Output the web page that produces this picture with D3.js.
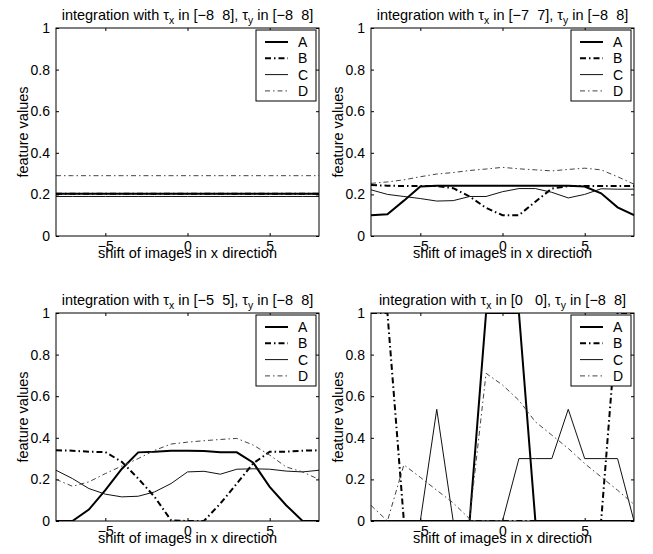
<!DOCTYPE html>
<html>
<head>
<meta charset="utf-8">
<script src="https://cdn.jsdelivr.net/npm/d3@7"></script>
<style>
	body { margin: 0; background: #fff; }
	svg { display: block; font-family: 'Liberation Sans', Arial, Helvetica, sans-serif; }
	text { white-space: pre; }
</style>
</head>
<body>
<div id="chart"></div>
<script>
// x positions (shift of images) shared by every panel
var shifts = [-8, -7, -6, -5, -4, -3, -2, -1, 0, 1, 2, 3, 4, 5, 6, 7, 8];
var seriesNames = ['A', 'B', 'C', 'D'];
var xTicks = [-5, 0, 5];
var yTicks = [0, 0.2, 0.4, 0.6, 0.8, 1];
var tauXRanges = ['[\u22128  8]', '[\u22127  7]', '[\u22125  5]', '[0   0]'];
var tauYRange = '[\u22128  8]';

// tau_x in [-8 8]
var tx8A = [0.203, 0.203, 0.203, 0.203, 0.203, 0.203, 0.203, 0.203, 0.203, 0.203, 0.203, 0.203, 0.203, 0.203, 0.203, 0.203, 0.203];
var tx8B = [0.203, 0.203, 0.203, 0.203, 0.203, 0.203, 0.203, 0.203, 0.203, 0.203, 0.203, 0.203, 0.203, 0.203, 0.203, 0.203, 0.203];
var tx8C = [0.19, 0.19, 0.19, 0.19, 0.19, 0.19, 0.19, 0.19, 0.19, 0.19, 0.19, 0.19, 0.19, 0.19, 0.19, 0.19, 0.19];
var tx8D = [0.29, 0.29, 0.29, 0.29, 0.29, 0.29, 0.29, 0.29, 0.29, 0.29, 0.29, 0.29, 0.29, 0.29, 0.29, 0.29, 0.29];

// tau_x in [-7 7]
var tx7A = [0.10, 0.105, 0.17, 0.238, 0.242, 0.242, 0.242, 0.242, 0.242, 0.242, 0.242, 0.242, 0.242, 0.238, 0.205, 0.138, 0.10];
var tx7B = [0.245, 0.242, 0.24, 0.24, 0.24, 0.23, 0.19, 0.135, 0.10, 0.10, 0.165, 0.228, 0.24, 0.24, 0.24, 0.24, 0.24];
var tx7C = [0.222, 0.20, 0.19, 0.18, 0.168, 0.17, 0.19, 0.19, 0.213, 0.228, 0.228, 0.21, 0.183, 0.20, 0.227, 0.225, 0.225];
var tx7D = [0.253, 0.26, 0.27, 0.285, 0.298, 0.305, 0.315, 0.322, 0.33, 0.323, 0.318, 0.313, 0.32, 0.326, 0.318, 0.285, 0.249];

// tau_x in [-5 5]
var tx5A = [0, 0, 0.055, 0.148, 0.25, 0.33, 0.333, 0.338, 0.338, 0.336, 0.33, 0.33, 0.28, 0.164, 0.076, 0, 0];
var tx5B = [0.34, 0.338, 0.333, 0.331, 0.285, 0.204, 0.116, 0.003, 0, 0, 0.084, 0.18, 0.277, 0.333, 0.333, 0.338, 0.34];
var tx5C = [0.244, 0.204, 0.156, 0.129, 0.116, 0.119, 0.14, 0.18, 0.236, 0.239, 0.225, 0.249, 0.251, 0.249, 0.24, 0.236, 0.244];
var tx5D = [0.2, 0.167, 0.188, 0.228, 0.264, 0.3, 0.34, 0.37, 0.379, 0.386, 0.392, 0.397, 0.365, 0.317, 0.26, 0.236, 0.2];

// tau_x in [0 0]
var tx0A = [0, 0, 0, 0, 0, 0, 0, 1, 1, 1, 0, 0, 0, 0, 0, 0, 0];
var tx0B = [1, 1, 0, 0, 0, 0, 0, 0, 0, 0, 0, 0, 0, 0, 0, 1, 1];
var tx0C = [0, 0, 0, 0, 0.537, 0, 0, 0, 0, 0.30, 0.30, 0.30, 0.537, 0.30, 0.30, 0.30, 0];
var tx0D = [0.075, 0, 0.27, 0.21, 0.148, 0.087, 0.01, 0.71, 0.654, 0.58, 0.477, 0.413, 0.349, 0.276, 0.212, 0.148, 0.08];

var panels = [
	{tauX: tauXRanges[0], series: [tx8A, tx8B, tx8C, tx8D]},
	{tauX: tauXRanges[1], series: [tx7A, tx7B, tx7C, tx7D]},
	{tauX: tauXRanges[2], series: [tx5A, tx5B, tx5C, tx5D]},
	{tauX: tauXRanges[3], series: [tx0A, tx0B, tx0C, tx0D]}
];

// MATLAB-ish line styles: A thick solid, B thick dash-dot, C thin solid, D thin dash-dot
var styles = [
	{stroke: '#000', width: 2, dash: null},
	{stroke: '#000', width: 2, dash: '6,3,1.5,3'},
	{stroke: '#111', width: 1, dash: null},
	{stroke: '#444', width: 1, dash: '5,3,1.5,3'}
];

var width = 653, height = 554;
var lefts = [56, 371], tops = [28, 313];
var plotW = 263, plotH = 208;
var tickFont = 14, labelFont = 14.5, titleFont = 14.5;

var svg = d3.select('#chart')
	.append('svg')
	.attr('width', width)
	.attr('height', height);

function fmtY(d) {
	return (d === 0 || d === 1) ? String(d) : d.toFixed(1);
}

function renderTitle(g, tauX) {
	var t = g.append('text')
		.attr('x', plotW / 2)
		.attr('y', -8)
		.attr('text-anchor', 'middle')
		.attr('font-size', titleFont);
	t.append('tspan').text('integration with \u03c4');
	t.append('tspan').attr('dy', 4).attr('font-size', titleFont * 0.72).text('x');
	t.append('tspan').attr('dy', -4).text(' in ' + tauX + ', \u03c4');
	t.append('tspan').attr('dy', 4).attr('font-size', titleFont * 0.72).text('y');
	t.append('tspan').attr('dy', -4).text(' in ' + tauYRange);
}

function renderPanel(p, i) {
	var col = i % 2, row = Math.floor(i / 2);
	var g = svg.append('g')
		.attr('transform', 'translate(' + lefts[col] + ',' + tops[row] + ')');

	var x = d3.scaleLinear().domain([-8, 8]).range([0, plotW]);
	var y = d3.scaleLinear().domain([0, 1]).range([plotH, 0]);

	var clipId = 'clip-' + i;
	g.append('clipPath')
		.attr('id', clipId)
		.append('rect')
		.attr('width', plotW)
		.attr('height', plotH);

	// inward ticks on all four sides
	var bottom = g.append('g')
		.attr('transform', 'translate(0,' + plotH + ')')
		.call(d3.axisBottom(x).tickValues(xTicks).tickSize(-3).tickSizeOuter(0).tickPadding(5.5));
	var top = g.append('g')
		.call(d3.axisTop(x).tickValues(xTicks).tickSize(-3).tickSizeOuter(0).tickFormat(''));
	var left = g.append('g')
		.call(d3.axisLeft(y).tickValues(yTicks).tickSize(-3).tickSizeOuter(0).tickPadding(6).tickFormat(fmtY));
	var right = g.append('g')
		.attr('transform', 'translate(' + plotW + ',0)')
		.call(d3.axisRight(y).tickValues(yTicks).tickSize(-3).tickSizeOuter(0).tickFormat(''));

	[bottom, top, left, right].forEach(function(a) {
		a.select('.domain').remove();
		a.attr('font-family', null).attr('font-size', tickFont);
		a.selectAll('line').attr('stroke', '#000');
		a.selectAll('text').attr('fill', '#000');
	});

	var line = d3.line()
		.x(function(d, k) { return x(shifts[k]); })
		.y(function(d) { return y(d); });

	var lines = g.append('g').attr('clip-path', 'url(#' + clipId + ')');
	p.series.forEach(function(values, k) {
		var s = styles[k];
		lines.append('path')
			.attr('d', line(values))
			.attr('fill', 'none')
			.attr('stroke', s.stroke)
			.attr('stroke-width', s.width)
			.attr('stroke-dasharray', s.dash);
	});

	g.append('rect')
		.attr('width', plotW)
		.attr('height', plotH)
		.attr('fill', 'none')
		.attr('stroke', '#000')
		.attr('stroke-width', 1);

	// legend
	var lg = g.append('g').attr('transform', 'translate(' + (plotW - 63) + ',2)');
	lg.append('rect')
		.attr('width', 60)
		.attr('height', 71)
		.attr('fill', '#fff')
		.attr('stroke', '#000');
	seriesNames.forEach(function(name, k) {
		var s = styles[k];
		var ly = 12 + k * 16.3;
		lg.append('line')
			.attr('x1', 9).attr('x2', 32)
			.attr('y1', ly).attr('y2', ly)
			.attr('stroke', s.stroke)
			.attr('stroke-width', s.width)
			.attr('stroke-dasharray', s.dash);
		lg.append('text')
			.attr('x', 42)
			.attr('y', ly + 5)
			.attr('font-size', tickFont)
			.text(name);
	});

	renderTitle(g, p.tauX);

	g.append('text')
		.attr('x', plotW / 2)
		.attr('y', plotH + 22)
		.attr('text-anchor', 'middle')
		.attr('font-size', labelFont)
		.text('shift of images in x direction');

	g.append('text')
		.attr('transform', 'translate(-28,' + (plotH / 2) + ') rotate(-90)')
		.attr('text-anchor', 'middle')
		.attr('font-size', labelFont)
		.text('feature values');
}

panels.forEach(renderPanel);
</script>
</body>
</html>
